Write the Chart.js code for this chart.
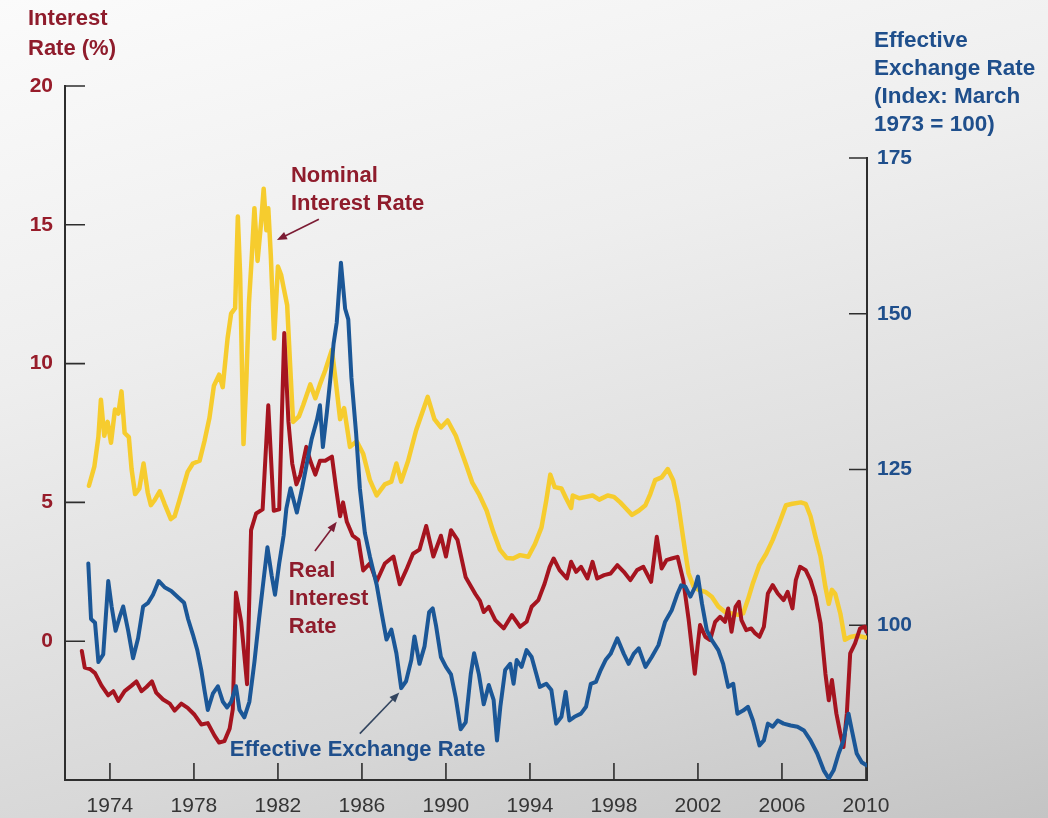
<!DOCTYPE html>
<html>
<head>
<meta charset="utf-8">
<title>Interest Rates and the Effective Exchange Rate, 1973–2010</title>
<script src="https://cdn.jsdelivr.net/npm/chart.js@4.4.1/dist/chart.umd.min.js"></script>
<style>
  html, body { margin: 0; padding: 0; }
  body {
    width: 1048px; height: 818px; overflow: hidden;
    background: linear-gradient(165deg, #fbfbfb 0%, #eeeeee 35%, #d8d8d8 75%, #c4c4c4 100%);
  }
  #wrap { position: relative; width: 1048px; height: 818px; }
  canvas { display: block; }
</style>
</head>
<body>
<div id="wrap"><canvas id="chart" width="1048" height="818"></canvas></div>
<script>
// ---- Nominal interest rate (%), left axis ----
const nominalYears = [
  1973.0, 1973.26, 1973.45, 1973.57, 1973.73, 1973.89, 1974.05, 1974.24, 1974.4, 1974.55,
  1974.7, 1974.9, 1975.03, 1975.2, 1975.4, 1975.6, 1975.8, 1975.95, 1976.1, 1976.37,
  1976.6, 1976.9, 1977.08, 1977.3, 1977.7, 1977.95, 1978.27, 1978.5, 1978.74, 1978.95,
  1979.2, 1979.37, 1979.6, 1979.77, 1979.96, 1980.09, 1980.2, 1980.36, 1980.5, 1980.62,
  1980.75, 1980.88, 1981.03, 1981.2, 1981.32, 1981.45, 1981.54, 1981.66, 1981.82, 1982.0,
  1982.15, 1982.28, 1982.44, 1982.57, 1982.72, 1983.0, 1983.2, 1983.54, 1983.78, 1984.0,
  1984.25, 1984.57, 1984.77, 1984.96, 1985.15, 1985.43, 1985.75, 1986.06, 1986.38, 1986.7,
  1987.09, 1987.4, 1987.64, 1987.87, 1988.2, 1988.58, 1989.13, 1989.45, 1989.76, 1990.08,
  1990.47, 1990.94, 1991.26, 1991.57, 1991.94, 1992.25, 1992.57, 1992.89, 1993.2, 1993.53,
  1993.92, 1994.24, 1994.55, 1994.78, 1994.97, 1995.18, 1995.5, 1995.72, 1995.96, 1996.04,
  1996.35, 1996.67, 1996.98, 1997.3, 1997.7, 1998.0, 1998.3, 1998.55, 1998.86, 1999.18,
  1999.5, 1999.73, 1999.96, 2000.27, 2000.56, 2000.82, 2001.05, 2001.3, 2001.55, 2001.8,
  2002.03, 2002.35, 2002.66, 2002.97, 2003.29, 2003.6, 2003.91, 2004.15, 2004.38, 2004.62,
  2004.93, 2005.25, 2005.56, 2005.87, 2006.19, 2006.5, 2006.9, 2007.13, 2007.36, 2007.6,
  2007.84, 2008.07, 2008.23, 2008.38, 2008.54, 2008.78, 2009.0, 2009.25, 2009.56, 2009.87,
  2010.0
];
const nominalRate = [
  5.6, 6.3, 7.35, 8.7, 7.4, 7.9, 7.15, 8.35, 8.2, 9.0,
  7.5, 7.35, 6.2, 5.3, 5.5, 6.4, 5.35, 4.9, 5.05, 5.4,
  4.95, 4.4, 4.5, 5.05, 6.1, 6.4, 6.5, 7.2, 8.05, 9.2,
  9.6, 9.15, 10.9, 11.8, 12.0, 15.3, 13.2, 7.1, 9.5, 12.2,
  13.8, 15.6, 13.7, 15.1, 16.3, 14.8, 15.6, 13.9, 10.9, 13.5,
  13.2, 12.7, 12.1, 10.1, 7.9, 8.1, 8.5, 9.25, 8.75, 9.25,
  9.75, 10.5, 9.25, 8.0, 8.4, 7.0, 7.2, 6.75, 5.8, 5.25,
  5.65, 5.75, 6.4, 5.75, 6.5, 7.6, 8.8, 8.0, 7.7, 7.95,
  7.4, 6.4, 5.7, 5.3, 4.7, 3.95, 3.3, 3.0, 2.98, 3.1,
  3.04, 3.5, 4.1, 5.08, 6.0, 5.55, 5.5, 5.15, 4.8, 5.25,
  5.15, 5.2, 5.25, 5.1, 5.25, 5.2, 5.0, 4.8, 4.55, 4.7,
  4.9, 5.3, 5.8, 5.9, 6.2, 5.8, 5.0, 3.7, 2.45, 1.95,
  1.85, 1.78, 1.6, 1.25, 1.05, 1.0, 0.95, 1.0, 1.5, 2.1,
  2.75, 3.15, 3.65, 4.25, 4.9, 4.95, 5.0, 4.95, 4.5, 3.75,
  3.05, 1.95, 1.35, 1.85, 1.7, 1.0, 0.05, 0.15, 0.2, 0.15,
  0.13
];

// ---- Real interest rate (%), left axis ----
const realYears = [
  1972.66, 1972.8, 1973.05, 1973.29, 1973.6, 1973.92, 1974.16, 1974.4, 1974.7, 1975.03,
  1975.26, 1975.5, 1975.74, 1976.0, 1976.2, 1976.53, 1976.85, 1977.08, 1977.4, 1977.7,
  1978.03, 1978.35, 1978.66, 1978.98, 1979.2, 1979.45, 1979.7, 1979.85, 1980.0, 1980.25,
  1980.53, 1980.72, 1980.96, 1981.27, 1981.54, 1981.8, 1982.06, 1982.3, 1982.5, 1982.68,
  1982.88, 1983.07, 1983.35, 1983.54, 1983.78, 1984.0, 1984.25, 1984.57, 1984.77, 1984.96,
  1985.1, 1985.28, 1985.56, 1985.83, 1986.06, 1986.38, 1986.7, 1987.09, 1987.5, 1987.8,
  1988.1, 1988.43, 1988.74, 1989.06, 1989.4, 1989.76, 1990.0, 1990.24, 1990.55, 1990.94,
  1991.4, 1991.62, 1991.8, 1992.04, 1992.35, 1992.75, 1993.14, 1993.53, 1993.84, 1994.08,
  1994.4, 1994.7, 1994.94, 1995.13, 1995.41, 1995.76, 1995.96, 1996.2, 1996.43, 1996.74,
  1996.98, 1997.2, 1997.53, 1997.84, 1998.16, 1998.47, 1998.78, 1999.1, 1999.4, 1999.77,
  2000.04, 2000.27, 2000.5, 2000.75, 2001.03, 2001.3, 2001.56, 2001.85, 2001.98, 2002.1,
  2002.35, 2002.58, 2002.82, 2003.05, 2003.29, 2003.44, 2003.6, 2003.79, 2003.95, 2004.07,
  2004.3, 2004.54, 2004.73, 2004.93, 2005.14, 2005.33, 2005.56, 2005.8, 2006.08, 2006.27,
  2006.5, 2006.66, 2006.86, 2007.13, 2007.36, 2007.6, 2007.84, 2008.07, 2008.23, 2008.38,
  2008.59, 2008.78, 2008.93, 2009.09, 2009.25, 2009.48, 2009.72, 2009.95, 2010.03
];
const realRate = [
  -0.35, -0.95, -1.0, -1.15, -1.6, -1.95, -1.8, -2.15, -1.8, -1.6,
  -1.45, -1.8, -1.65, -1.45, -1.85, -2.1, -2.25, -2.5, -2.25, -2.4,
  -2.65, -3.0, -2.95, -3.4, -3.65, -3.6, -3.15, -2.45, 1.75, 0.7,
  -1.55, 4.0, 4.6, 4.75, 8.5, 4.7, 4.75, 11.1, 7.9, 6.4,
  5.65, 6.0, 7.0, 6.5, 6.0, 6.5, 6.5, 6.65, 5.5, 4.5,
  5.0, 4.3, 3.8, 3.65, 2.55, 2.8, 2.15, 2.8, 3.05, 2.05,
  2.55, 3.15, 3.3, 4.15, 3.05, 3.8, 3.05, 4.0, 3.65, 2.3,
  1.7, 1.45, 1.05, 1.24, 0.76, 0.46, 0.94, 0.52, 0.7, 1.24,
  1.48, 2.08, 2.68, 2.98, 2.56, 2.26, 2.86, 2.5, 2.68, 2.26,
  2.86, 2.26, 2.38, 2.44, 2.74, 2.5, 2.2, 2.56, 2.68, 2.14,
  3.76, 2.62, 2.92, 2.98, 3.04, 2.2, 0.76, -1.17, -0.2, 0.58,
  0.16, 0.04, 0.7, 0.88, 0.7, 1.18, 0.34, 1.24, 1.42, 0.76,
  0.4, 0.46, 0.28, 0.16, 0.52, 1.72, 2.02, 1.72, 1.48, 1.78,
  1.18, 2.2, 2.68, 2.56, 2.2, 1.6, 0.64, -1.17, -2.13, -1.4,
  -2.6, -3.33, -3.81, -2.6, -0.44, -0.08, 0.46, 0.52, 0.34
];

// ---- Effective exchange rate (index, March 1973 = 100), right axis ----
const exchangeYears = [
  1972.97, 1973.1, 1973.29, 1973.45, 1973.68, 1973.92, 1974.08, 1974.27, 1974.47, 1974.63,
  1974.87, 1975.1, 1975.34, 1975.58, 1975.82, 1976.05, 1976.32, 1976.6, 1976.92, 1977.24,
  1977.53, 1977.72, 1977.95, 1978.16, 1978.35, 1978.5, 1978.66, 1978.9, 1979.14, 1979.38,
  1979.58, 1979.77, 1980.0, 1980.17, 1980.4, 1980.64, 1980.88, 1981.1, 1981.32, 1981.5,
  1981.7, 1981.86, 1982.06, 1982.27, 1982.4, 1982.6, 1982.9, 1983.15, 1983.4, 1983.6,
  1983.86, 1984.0, 1984.14, 1984.33, 1984.5, 1984.65, 1984.8, 1985.0, 1985.2, 1985.35,
  1985.5, 1985.72, 1985.9, 1986.14, 1986.38, 1986.7, 1986.93, 1987.17, 1987.4, 1987.64,
  1987.87, 1988.1, 1988.35, 1988.5, 1988.74, 1988.98, 1989.2, 1989.37, 1989.53, 1989.76,
  1990.0, 1990.24, 1990.47, 1990.7, 1990.94, 1991.18, 1991.34, 1991.57, 1991.8, 1992.04,
  1992.27, 1992.43, 1992.59, 1992.82, 1993.06, 1993.22, 1993.37, 1993.6, 1993.84, 1994.08,
  1994.3, 1994.47, 1994.78, 1995.02, 1995.25, 1995.5, 1995.7, 1995.88, 1996.12, 1996.43,
  1996.67, 1996.9, 1997.14, 1997.37, 1997.6, 1997.84, 1998.16, 1998.47, 1998.7, 1998.94,
  1999.18, 1999.5, 1999.8, 2000.12, 2000.43, 2000.75, 2001.03, 2001.2, 2001.4, 2001.64,
  2001.87, 2002.0, 2002.19, 2002.42, 2002.66, 2002.97, 2003.2, 2003.44, 2003.68, 2003.88,
  2004.15, 2004.38, 2004.62, 2004.93, 2005.14, 2005.33, 2005.56, 2005.8, 2006.08, 2006.42,
  2006.74, 2007.05, 2007.36, 2007.68, 2007.99, 2008.23, 2008.46, 2008.7, 2008.93, 2009.17,
  2009.33, 2009.56, 2009.8, 2010.03
];
const exchangeIndex = [
  109.9, 101.0, 100.4, 94.1, 95.3, 107.1, 103.0, 99.1, 101.4, 103.0,
  99.1, 94.7, 97.9, 103.0, 103.6, 104.9, 107.1, 106.1, 105.5, 104.5,
  103.6, 101.0, 98.5, 96.0, 92.8, 89.6, 86.4, 89.0, 90.2, 87.7,
  86.8, 87.7, 90.2, 86.4, 85.2, 87.7, 94.1, 101.0, 107.4, 112.5,
  108.0, 104.9, 109.9, 114.4, 118.7, 122.0, 118.1, 122.0, 126.4, 129.8,
  133.0, 135.3, 128.6, 134.2, 139.7, 145.2, 148.6, 158.2, 150.8, 149.1,
  139.7, 130.9, 122.0, 114.8, 111.0, 106.5, 102.1, 97.7, 99.3, 95.5,
  89.9, 91.0, 94.4, 98.2, 93.8, 96.6, 102.1, 102.7, 99.9, 94.9,
  93.3, 92.1, 88.3, 83.3, 84.4, 92.1, 95.5, 92.1, 87.3, 90.4,
  88.0, 81.5, 86.9, 92.8, 93.8, 90.6, 94.4, 93.3, 96.0, 94.9,
  92.2, 90.1, 90.6, 89.6, 84.2, 85.3, 89.3, 84.7, 85.3, 85.8,
  86.9, 90.6, 90.9, 92.8, 94.4, 95.4, 97.9, 95.4, 93.8, 95.4,
  96.3, 93.3, 94.9, 96.8, 100.5, 102.4, 105.1, 106.4, 106.2, 104.6,
  106.2, 107.8, 103.5, 99.2, 97.6, 96.0, 93.8, 90.1, 90.6, 85.8,
  86.3, 86.9, 84.7, 80.7, 81.5, 84.2, 83.7, 84.7, 84.2, 83.9,
  83.7, 83.1, 81.5, 79.4, 76.7, 75.4, 76.7, 79.4, 81.5, 85.8,
  83.1, 79.4, 78.0, 77.5
];

// ---- Axis ticks ----
const yearTicks = [1974, 1978, 1982, 1986, 1990, 1994, 1998, 2002, 2006, 2010];
const rateTicks = [0, 5, 10, 15, 20];
const indexTicks = [100, 125, 150, 175];

const FONT = '"Liberation Sans", Arial, Helvetica, sans-serif';
const RED_TEXT = '#8f1c2c';
const BLUE_TEXT = '#1f4f8c';
const AXIS_COLOR = '#2e2e2e';

const toPoints = (xs, ys) => xs.map((x, i) => ({ x: x, y: ys[i] }));

// Axis titles, placed above each vertical axis
const axisTitles = [
  { side: 'left', lines: ['Interest', 'Rate (%)'], color: RED_TEXT },
  { side: 'right', lines: ['Effective', 'Exchange Rate', '(Index: March', '1973 = 100)'], color: BLUE_TEXT }
];

// Series labels with pointer arrows, anchored in data coordinates
const seriesNotes = [
  { lines: ['Nominal', 'Interest Rate'], color: RED_TEXT, axis: 'y', x: 1982.62, y: 16.76, lineGap: 28,
    arrow: { from: [1983.95, 15.2], to: [1981.95, 14.45], color: '#7c1c34' } },
  { lines: ['Real', 'Interest', 'Rate'], color: RED_TEXT, axis: 'y', x: 1982.52, y: 2.52, lineGap: 28,
    arrow: { from: [1983.76, 3.25], to: [1984.8, 4.3], color: '#7c1c34' } },
  { lines: ['Effective Exchange Rate'], color: BLUE_TEXT, axis: 'y1', x: 1979.71, y: 79.95, lineGap: 28,
    arrow: { from: [1985.9, 82.6], to: [1987.78, 89.2], color: '#33455f' } }
];

// Axis frame: left, right and bottom lines with inward tick marks
const framePlugin = {
  id: 'frame',
  beforeDatasetsDraw(chart) {
    const { ctx, chartArea: a, scales } = chart;
    const yTop175 = scales.y1.getPixelForValue(indexTicks[indexTicks.length - 1]);
    ctx.save();
    ctx.strokeStyle = AXIS_COLOR;
    ctx.lineWidth = 2;
    ctx.lineCap = 'square';
    ctx.beginPath();
    ctx.moveTo(a.left, a.top);
    ctx.lineTo(a.left, a.bottom);
    ctx.lineTo(a.right, a.bottom);
    ctx.lineTo(a.right, yTop175);
    ctx.stroke();
    ctx.lineWidth = 1.6;
    ctx.lineCap = 'butt';
    ctx.beginPath();
    rateTicks.forEach(v => {
      const py = scales.y.getPixelForValue(v);
      ctx.moveTo(a.left, py); ctx.lineTo(a.left + 20, py);
    });
    indexTicks.forEach(v => {
      const py = scales.y1.getPixelForValue(v);
      ctx.moveTo(a.right, py); ctx.lineTo(a.right - 18, py);
    });
    yearTicks.forEach(v => {
      const px = scales.x.getPixelForValue(v);
      ctx.moveTo(px, a.bottom); ctx.lineTo(px, a.bottom - 17);
    });
    ctx.stroke();
    ctx.restore();
  }
};

function drawArrow(ctx, x1, y1, x2, y2, color) {
  const ang = Math.atan2(y2 - y1, x2 - x1);
  const len = 10, half = 4;
  ctx.save();
  ctx.strokeStyle = color;
  ctx.fillStyle = color;
  ctx.lineWidth = 1.6;
  ctx.beginPath();
  ctx.moveTo(x1, y1);
  ctx.lineTo(x2 - Math.cos(ang) * len * 0.8, y2 - Math.sin(ang) * len * 0.8);
  ctx.stroke();
  ctx.beginPath();
  ctx.moveTo(x2, y2);
  ctx.lineTo(x2 - Math.cos(ang) * len - Math.sin(ang) * half, y2 - Math.sin(ang) * len + Math.cos(ang) * half);
  ctx.lineTo(x2 - Math.cos(ang) * len + Math.sin(ang) * half, y2 - Math.sin(ang) * len - Math.cos(ang) * half);
  ctx.closePath();
  ctx.fill();
  ctx.restore();
}

// Axis titles and series labels
const labelsPlugin = {
  id: 'labels',
  afterDatasetsDraw(chart) {
    const { ctx, chartArea: a, scales } = chart;
    ctx.save();
    ctx.textAlign = 'left';
    ctx.textBaseline = 'middle';
    axisTitles.forEach(t => {
      const left = t.side === 'left';
      const x0 = left ? a.left - 37 : a.right + 7;
      const y0 = left ? a.top - 67 : a.top - 45;
      const gap = left ? 30 : 28;
      ctx.font = 'bold ' + (left ? 22 : 22.5) + 'px ' + FONT;
      ctx.fillStyle = t.color;
      t.lines.forEach((ln, i) => ctx.fillText(ln, x0, y0 + i * gap));
    });
    ctx.font = 'bold 22px ' + FONT;
    seriesNotes.forEach(n => {
      const ys = scales[n.axis];
      const px = scales.x.getPixelForValue(n.x);
      const py = ys.getPixelForValue(n.y);
      ctx.fillStyle = n.color;
      n.lines.forEach((ln, i) => ctx.fillText(ln, px, py + i * n.lineGap));
      const ar = n.arrow;
      drawArrow(ctx,
        scales.x.getPixelForValue(ar.from[0]), ys.getPixelForValue(ar.from[1]),
        scales.x.getPixelForValue(ar.to[0]), ys.getPixelForValue(ar.to[1]), ar.color);
    });
    ctx.restore();
  }
};

const lineStyle = { borderWidth: 4, pointRadius: 0, pointHoverRadius: 0, tension: 0, fill: false, borderJoinStyle: 'round', borderCapStyle: 'round' };

new Chart(document.getElementById('chart'), {
  type: 'line',
  data: {
    datasets: [
      Object.assign({ label: 'Nominal Interest Rate', data: toPoints(nominalYears, nominalRate), borderColor: '#f6cc2e', yAxisID: 'y', order: 3 }, lineStyle, { borderWidth: 4.5 }),
      Object.assign({ label: 'Real Interest Rate', data: toPoints(realYears, realRate), borderColor: '#a5141f', yAxisID: 'y', order: 2 }, lineStyle),
      Object.assign({ label: 'Effective Exchange Rate', data: toPoints(exchangeYears, exchangeIndex), borderColor: '#1b5797', yAxisID: 'y1', order: 1 }, lineStyle)
    ]
  },
  options: {
    responsive: false,
    animation: false,
    events: [],
    layout: { padding: { top: 86, left: 0, right: 0, bottom: 0 } },
    plugins: { legend: { display: false }, tooltip: { enabled: false } },
    scales: {
      x: {
        type: 'linear', position: 'bottom', min: 1971.86, max: 2010.05,
        afterBuildTicks: s => { s.ticks = yearTicks.map(v => ({ value: v })); },
        afterFit: s => { s.height = 38; },
        grid: { display: false, drawTicks: false },
        border: { display: false },
        ticks: { autoSkip: false, maxRotation: 0, padding: 14, color: '#353535',
                 font: { family: FONT, size: 21 }, callback: v => String(v) }
      },
      y: {
        type: 'linear', position: 'left', min: -5, max: 20,
        afterBuildTicks: s => { s.ticks = rateTicks.map(v => ({ value: v })); },
        afterFit: s => { s.width = 65; },
        grid: { display: false, drawTicks: false },
        border: { display: false },
        ticks: { padding: 12, color: '#971c2a', font: { family: FONT, size: 21, weight: 'bold' }, callback: v => String(v) }
      },
      y1: {
        type: 'linear', position: 'right', min: 75.15, max: 186.56,
        afterBuildTicks: s => { s.ticks = indexTicks.map(v => ({ value: v })); },
        afterFit: s => { s.width = 181; },
        grid: { display: false, drawTicks: false },
        border: { display: false },
        ticks: { padding: 10, color: BLUE_TEXT, font: { family: FONT, size: 21, weight: 'bold' }, callback: v => String(v) }
      }
    }
  },
  plugins: [framePlugin, labelsPlugin]
});
</script>
</body>
</html>
